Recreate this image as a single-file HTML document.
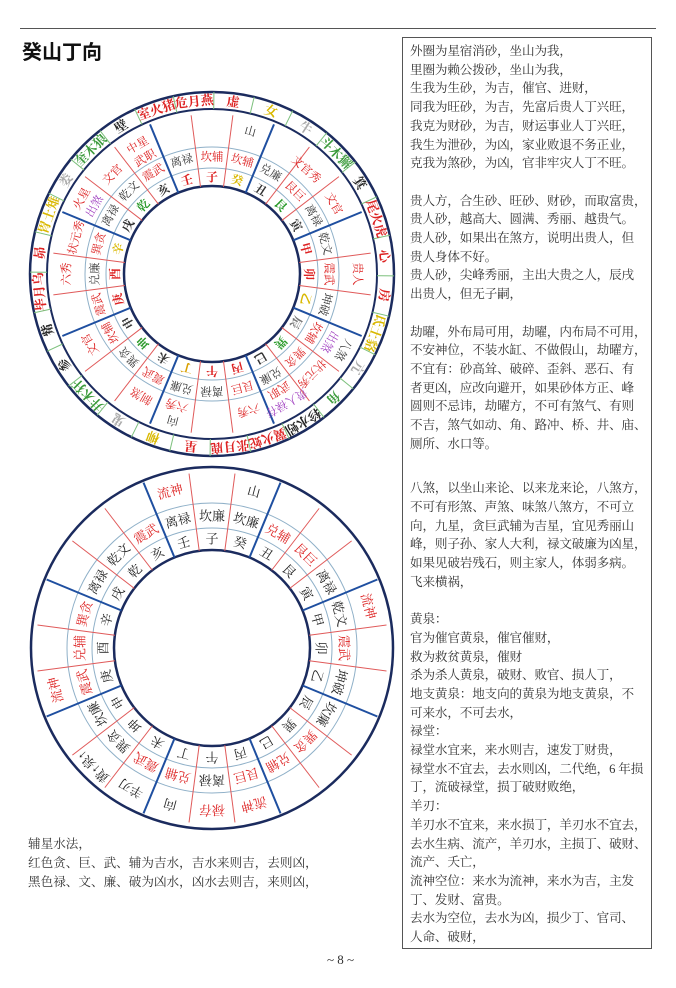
<!DOCTYPE html>
<html><head><meta charset="utf-8">
<style>
html,body{margin:0;padding:0;background:#fff;}
body{width:676px;height:988px;position:relative;overflow:hidden;font-family:"Liberation Serif","Noto Serif CJK SC",serif;color:#222;}
.hr{position:absolute;left:20px;top:28px;width:636px;height:0;border-top:1.5px solid #555;}
.title{position:absolute;left:22px;top:36px;font-family:"Liberation Sans","Noto Sans CJK SC",sans-serif;font-weight:bold;font-size:20px;color:#111;}
.box{position:absolute;left:402px;top:37px;width:248px;height:910px;border:1px solid #555;}
.txt{position:absolute;left:410px;top:42px;font-size:12.6px;letter-spacing:-0.15px;line-height:18.7px;white-space:nowrap;color:#333;}
.bl{position:absolute;left:28px;top:835px;font-size:12.6px;line-height:19px;white-space:nowrap;color:#333;}
.pn{position:absolute;left:327px;top:952px;font-size:13px;color:#333;}
svg{position:absolute;left:0;top:0;}
svg text{font-family:"Liberation Serif","Noto Serif CJK SC",serif;text-anchor:middle;dominant-baseline:central;}
</style></head><body>
<div class="hr"></div>
<div class="title">癸山丁向</div>
<div class="box"></div>
<div class="txt">外圈为星宿消砂，坐山为我，<br>里圈为赖公拨砂，坐山为我，<br>生我为生砂，为吉，催官、进财，<br>同我为旺砂，为吉，先富后贵人丁兴旺，<br>我克为财砂，为吉，财运事业人丁兴旺，<br>我生为泄砂，为凶，家业败退不务正业，<br>克我为煞砂，为凶，官非牢灾人丁不旺。<br><br>贵人方，合生砂、旺砂、财砂，而取富贵，<br>贵人砂，越高大、圆满、秀丽、越贵气。<br>贵人砂，如果出在煞方，说明出贵人，但<br>贵人身体不好。<br>贵人砂，尖峰秀丽，主出大贵之人，辰戌<br>出贵人，但无子嗣，<br><br>劫曜，外布局可用，劫曜，内布局不可用，<br>不安神位，不装水缸、不做假山，劫曜方，<br>不宜有：砂高耸、破碎、歪斜、恶石、有<br>者更凶，应改向避开，如果砂体方正、峰<br>圆则不忌讳，劫曜方，不可有煞气、有则<br>不吉，煞气如动、角、路冲、桥、井、庙、<br>厕所、水口等。<br><br><div style="height:7px"></div>八煞，以坐山来论、以来龙来论，八煞方，<br>不可有形煞、声煞、味煞八煞方，不可立<br>向，九星，贪巨武辅为吉星，宜见秀丽山<br>峰，则子孙、家人大利，禄文破廉为凶星，<br>如果见破岩残石，则主家人，体弱多病。<br>飞来横祸，<br><br>黄泉：<br>官为催官黄泉，催官催财，<br>救为救贫黄泉，催财<br>杀为杀人黄泉，破财、败官、损人丁，<br>地支黄泉：地支向的黄泉为地支黄泉，不<br>可来水，不可去水，<br>禄堂：<br>禄堂水宜来，来水则吉，速发丁财贵，<br>禄堂水不宜去，去水则凶，二代绝，6 年损<br>丁，流破禄堂，损丁破财败绝，<br>羊刃：<br>羊刃水不宜来，来水损丁，羊刃水不宜去，<br>去水生病、流产，羊刃水，主损丁、破财、<br>流产、夭亡，<br>流神空位：来水为流神，来水为吉，主发<br>丁、发财、富贵。<br>去水为空位，去水为凶，损少丁、官司、<br>人命、破财，</div>
<div class="bl">辅星水法，<br>红色贪、巨、武、辅为吉水，吉水来则吉，去则凶，<br>黑色禄、文、廉、破为凶水，凶水去则吉，来则凶，</div>
<div class="pn">~ 8 ~</div>

<svg width="676" height="988" viewBox="0 0 676 988">
<g fill="none">
<circle cx="212" cy="274" r="182" stroke="#1b2b5e" stroke-width="2.5"/>
<circle cx="212" cy="274" r="165" stroke="#1b2b5e" stroke-width="2"/>
<circle cx="212" cy="274" r="127" stroke="#8fb0c8" stroke-width="1"/>
<circle cx="212" cy="274" r="106" stroke="#8fb0c8" stroke-width="1"/>
<circle cx="212" cy="274" r="88" stroke="#1b2b5e" stroke-width="2.5"/>
</g>
<g stroke="#7cc07c" stroke-width="1">
<line x1="212" y1="92" x2="212" y2="109" transform="rotate(0.6 212 274)"/>
<line x1="212" y1="92" x2="212" y2="109" transform="rotate(13.4 212 274)"/>
<line x1="212" y1="92" x2="212" y2="109" transform="rotate(26.3 212 274)"/>
<line x1="212" y1="92" x2="212" y2="109" transform="rotate(39.1 212 274)"/>
<line x1="212" y1="92" x2="212" y2="109" transform="rotate(52 212 274)"/>
<line x1="212" y1="92" x2="212" y2="109" transform="rotate(64.9 212 274)"/>
<line x1="212" y1="92" x2="212" y2="109" transform="rotate(77.7 212 274)"/>
<line x1="212" y1="92" x2="212" y2="109" transform="rotate(90.6 212 274)"/>
<line x1="212" y1="92" x2="212" y2="109" transform="rotate(103.4 212 274)"/>
<line x1="212" y1="92" x2="212" y2="109" transform="rotate(116.3 212 274)"/>
<line x1="212" y1="92" x2="212" y2="109" transform="rotate(129.1 212 274)"/>
<line x1="212" y1="92" x2="212" y2="109" transform="rotate(142 212 274)"/>
<line x1="212" y1="92" x2="212" y2="109" transform="rotate(154.9 212 274)"/>
<line x1="212" y1="92" x2="212" y2="109" transform="rotate(167.7 212 274)"/>
<line x1="212" y1="92" x2="212" y2="109" transform="rotate(180.6 212 274)"/>
<line x1="212" y1="92" x2="212" y2="109" transform="rotate(193.4 212 274)"/>
<line x1="212" y1="92" x2="212" y2="109" transform="rotate(206.3 212 274)"/>
<line x1="212" y1="92" x2="212" y2="109" transform="rotate(219.1 212 274)"/>
<line x1="212" y1="92" x2="212" y2="109" transform="rotate(232 212 274)"/>
<line x1="212" y1="92" x2="212" y2="109" transform="rotate(244.9 212 274)"/>
<line x1="212" y1="92" x2="212" y2="109" transform="rotate(257.7 212 274)"/>
<line x1="212" y1="92" x2="212" y2="109" transform="rotate(270.6 212 274)"/>
<line x1="212" y1="92" x2="212" y2="109" transform="rotate(283.4 212 274)"/>
<line x1="212" y1="92" x2="212" y2="109" transform="rotate(296.3 212 274)"/>
<line x1="212" y1="92" x2="212" y2="109" transform="rotate(309.1 212 274)"/>
<line x1="212" y1="92" x2="212" y2="109" transform="rotate(322 212 274)"/>
<line x1="212" y1="92" x2="212" y2="109" transform="rotate(334.9 212 274)"/>
<line x1="212" y1="92" x2="212" y2="109" transform="rotate(347.7 212 274)"/>
</g>
<g stroke="#e05a5a" stroke-width="1">
<line x1="212" y1="186" x2="212" y2="114" transform="rotate(7.5 212 274)"/>
<line x1="212" y1="186" x2="212" y2="114" transform="rotate(37.5 212 274)"/>
<line x1="212" y1="186" x2="212" y2="114" transform="rotate(52.5 212 274)"/>
<line x1="212" y1="186" x2="212" y2="114" transform="rotate(82.5 212 274)"/>
<line x1="212" y1="186" x2="212" y2="114" transform="rotate(97.5 212 274)"/>
<line x1="212" y1="186" x2="212" y2="114" transform="rotate(127.5 212 274)"/>
<line x1="212" y1="186" x2="212" y2="114" transform="rotate(142.5 212 274)"/>
<line x1="212" y1="186" x2="212" y2="114" transform="rotate(172.5 212 274)"/>
<line x1="212" y1="186" x2="212" y2="114" transform="rotate(187.5 212 274)"/>
<line x1="212" y1="186" x2="212" y2="114" transform="rotate(217.5 212 274)"/>
<line x1="212" y1="186" x2="212" y2="114" transform="rotate(232.5 212 274)"/>
<line x1="212" y1="186" x2="212" y2="114" transform="rotate(262.5 212 274)"/>
<line x1="212" y1="186" x2="212" y2="114" transform="rotate(277.5 212 274)"/>
<line x1="212" y1="186" x2="212" y2="114" transform="rotate(307.5 212 274)"/>
<line x1="212" y1="186" x2="212" y2="114" transform="rotate(322.5 212 274)"/>
<line x1="212" y1="186" x2="212" y2="114" transform="rotate(352.5 212 274)"/>
</g>
<g stroke="#1f4fa0" stroke-width="2">
<line x1="212" y1="186" x2="212" y2="112" transform="rotate(22.5 212 274)"/>
<line x1="212" y1="186" x2="212" y2="112" transform="rotate(67.5 212 274)"/>
<line x1="212" y1="186" x2="212" y2="112" transform="rotate(112.5 212 274)"/>
<line x1="212" y1="186" x2="212" y2="112" transform="rotate(157.5 212 274)"/>
<line x1="212" y1="186" x2="212" y2="112" transform="rotate(202.5 212 274)"/>
<line x1="212" y1="186" x2="212" y2="112" transform="rotate(247.5 212 274)"/>
<line x1="212" y1="186" x2="212" y2="112" transform="rotate(292.5 212 274)"/>
<line x1="212" y1="186" x2="212" y2="112" transform="rotate(337.5 212 274)"/>
</g>
<g font-size="13" font-weight="bold">
<text x="212" y="100.5" fill="#d22" transform="rotate(7 212 274)">虚</text>
<text x="212" y="100.5" fill="#d9b800" transform="rotate(19.9 212 274)">女</text>
<text x="212" y="100.5" fill="#aaa" transform="rotate(32.7 212 274)">牛</text>
<text x="212" y="100.5" fill="#3a9a3a" transform="rotate(45.6 212 274)">斗木獬</text>
<text x="212" y="100.5" fill="#222" transform="rotate(58.4 212 274)">箕</text>
<text x="212" y="100.5" fill="#d22" transform="rotate(71.3 212 274)">尾火虎</text>
<text x="212" y="100.5" fill="#d22" transform="rotate(84.1 212 274)">心</text>
<text x="212" y="100.5" fill="#d22" transform="rotate(97 212 274)">房</text>
<text x="212" y="100.5" fill="#d9b800" transform="rotate(109.9 212 274)">氐土貉</text>
<text x="212" y="100.5" fill="#aaa" transform="rotate(122.7 212 274)">亢</text>
<text x="212" y="100.5" fill="#3a9a3a" transform="rotate(135.6 212 274)">角</text>
<text x="212" y="100.5" fill="#222" transform="rotate(148.4 212 274)">轸水蚓</text>
<text x="212" y="100.5" fill="#d22" transform="rotate(161.3 212 274)">翼火蛇</text>
<text x="212" y="100.5" fill="#d22" transform="rotate(174.1 212 274)">张月鹿</text>
<text x="212" y="100.5" fill="#d22" transform="rotate(187 212 274)">星</text>
<text x="212" y="100.5" fill="#d9b800" transform="rotate(199.9 212 274)">柳</text>
<text x="212" y="100.5" fill="#aaa" transform="rotate(212.7 212 274)">鬼</text>
<text x="212" y="100.5" fill="#3a9a3a" transform="rotate(225.6 212 274)">井木犴</text>
<text x="212" y="100.5" fill="#222" transform="rotate(238.4 212 274)">参</text>
<text x="212" y="100.5" fill="#222" transform="rotate(251.3 212 274)">觜</text>
<text x="212" y="100.5" fill="#d22" transform="rotate(264.1 212 274)">毕月乌</text>
<text x="212" y="100.5" fill="#d22" transform="rotate(277 212 274)">昴</text>
<text x="212" y="100.5" fill="#d9b800" transform="rotate(289.9 212 274)">胃土雉</text>
<text x="212" y="100.5" fill="#aaa" transform="rotate(302.7 212 274)">娄</text>
<text x="212" y="100.5" fill="#3a9a3a" transform="rotate(315.6 212 274)">奎木狼</text>
<text x="212" y="100.5" fill="#222" transform="rotate(328.4 212 274)">壁</text>
<text x="212" y="100.5" fill="#d22" transform="rotate(341.3 212 274)">室火猪</text>
<text x="212" y="100.5" fill="#d22" transform="rotate(354.1 212 274)">危月燕</text>
</g>
<g font-size="12" font-weight="bold">
<text x="212" y="177" fill="#d22" transform="rotate(0 212 274)">子</text>
<text x="212" y="177" fill="#d9b800" transform="rotate(15 212 274)">癸</text>
<text x="212" y="177" fill="#333" transform="rotate(30 212 274)">丑</text>
<text x="212" y="177" fill="#2a9a2a" transform="rotate(45 212 274)">艮</text>
<text x="212" y="177" fill="#333" transform="rotate(60 212 274)">寅</text>
<text x="212" y="177" fill="#d22" transform="rotate(75 212 274)">甲</text>
<text x="212" y="177" fill="#d22" transform="rotate(90 212 274)">卯</text>
<text x="212" y="177" fill="#d9b800" transform="rotate(105 212 274)">乙</text>
<text x="212" y="177" fill="#777" transform="rotate(120 212 274)">辰</text>
<text x="212" y="177" fill="#2a9a2a" transform="rotate(135 212 274)">巽</text>
<text x="212" y="177" fill="#333" transform="rotate(150 212 274)">巳</text>
<text x="212" y="177" fill="#d22" transform="rotate(165 212 274)">丙</text>
<text x="212" y="177" fill="#d22" transform="rotate(180 212 274)">午</text>
<text x="212" y="177" fill="#d9a000" transform="rotate(195 212 274)">丁</text>
<text x="212" y="177" fill="#333" transform="rotate(210 212 274)">未</text>
<text x="212" y="177" fill="#2a9a2a" transform="rotate(225 212 274)">坤</text>
<text x="212" y="177" fill="#333" transform="rotate(240 212 274)">申</text>
<text x="212" y="177" fill="#d22" transform="rotate(255 212 274)">庚</text>
<text x="212" y="177" fill="#d22" transform="rotate(270 212 274)">酉</text>
<text x="212" y="177" fill="#d9b800" transform="rotate(285 212 274)">辛</text>
<text x="212" y="177" fill="#333" transform="rotate(300 212 274)">戌</text>
<text x="212" y="177" fill="#2a9a2a" transform="rotate(315 212 274)">乾</text>
<text x="212" y="177" fill="#333" transform="rotate(330 212 274)">亥</text>
<text x="212" y="177" fill="#d22" transform="rotate(345 212 274)">壬</text>
</g>
<g font-size="11.5">
<text x="212" y="157.5" fill="#d22" transform="rotate(0 212 274)">坎辅</text>
<text x="212" y="157.5" fill="#d22" transform="rotate(15 212 274)">坎辅</text>
<text x="212" y="157.5" fill="#333" transform="rotate(30 212 274)">兑廉</text>
<text x="212" y="157.5" fill="#d22" transform="rotate(45 212 274)">艮巨</text>
<text x="212" y="157.5" fill="#333" transform="rotate(60 212 274)">离禄</text>
<text x="212" y="157.5" fill="#333" transform="rotate(75 212 274)">乾文</text>
<text x="212" y="157.5" fill="#d22" transform="rotate(90 212 274)">震武</text>
<text x="212" y="157.5" fill="#333" transform="rotate(105 212 274)">坤破</text>
<text x="212" y="157.5" fill="#d22" transform="rotate(120 212 274)">坎辅</text>
<text x="212" y="157.5" fill="#d22" transform="rotate(135 212 274)">巽贪</text>
<text x="212" y="157.5" fill="#333" transform="rotate(150 212 274)">兑廉</text>
<text x="212" y="157.5" fill="#d22" transform="rotate(165 212 274)">艮巨</text>
<text x="212" y="157.5" fill="#333" transform="rotate(180 212 274)">离禄</text>
<text x="212" y="157.5" fill="#333" transform="rotate(195 212 274)">兑廉</text>
<text x="212" y="157.5" fill="#d22" transform="rotate(210 212 274)">震武</text>
<text x="212" y="157.5" fill="#333" transform="rotate(225 212 274)">巽贪</text>
<text x="212" y="157.5" fill="#d22" transform="rotate(240 212 274)">坎辅</text>
<text x="212" y="157.5" fill="#d22" transform="rotate(255 212 274)">震武</text>
<text x="212" y="157.5" fill="#333" transform="rotate(270 212 274)">兑廉</text>
<text x="212" y="157.5" fill="#d22" transform="rotate(285 212 274)">巽贪</text>
<text x="212" y="157.5" fill="#333" transform="rotate(300 212 274)">离禄</text>
<text x="212" y="157.5" fill="#333" transform="rotate(315 212 274)">乾文</text>
<text x="212" y="157.5" fill="#d22" transform="rotate(330 212 274)">震武</text>
<text x="212" y="157.5" fill="#333" transform="rotate(345 212 274)">离禄</text>
</g>
<g font-size="11.5">
<text x="212" y="127" fill="#333" transform="rotate(15 212 274)">山</text>
<text x="212" y="126" fill="#d22" transform="rotate(330 212 274)">中星</text>
<text x="212" y="141" fill="#d22" transform="rotate(330 212 274)">武职</text>
<text x="212" y="134" fill="#d22" transform="rotate(315 212 274)">文官</text>
<text x="212" y="124" fill="#d22" transform="rotate(300 212 274)">火星</text>
<text x="212" y="139" fill="#a040c0" transform="rotate(300 212 274)">出煞</text>
<text x="212" y="134" fill="#d22" transform="rotate(285 212 274)">状元秀</text>
<text x="212" y="129" fill="#d22" transform="rotate(270 212 274)">六秀</text>
<text x="212" y="134" fill="#d22" transform="rotate(240 212 274)">文官</text>
<text x="212" y="134" fill="#d22" transform="rotate(210 212 274)">制煞</text>
<text x="212" y="139" fill="#d22" transform="rotate(195 212 274)">六秀</text>
<text x="212" y="123" fill="#333" transform="rotate(195 212 274)">向</text>
<text x="212" y="134" fill="#d22" transform="rotate(165 212 274)">六秀</text>
<text x="212" y="141" fill="#d22" transform="rotate(150 212 274)">武职</text>
<text x="212" y="126" fill="#a040c0" transform="rotate(150 212 274)">贵人禄存</text>
<text x="212" y="134" fill="#d22" transform="rotate(135 212 274)">状元秀</text>
<text x="212" y="139" fill="#a040c0" transform="rotate(120 212 274)">出煞</text>
<text x="212" y="123" fill="#333" transform="rotate(120 212 274)">八煞</text>
<text x="212" y="129" fill="#d22" transform="rotate(90 212 274)">贵人</text>
<text x="212" y="134" fill="#d22" transform="rotate(60 212 274)">文官</text>
<text x="212" y="134" fill="#d22" transform="rotate(42 212 274)">文官秀</text>
</g>

<g fill="none">
<circle cx="212" cy="648" r="181" stroke="#1b2b5e" stroke-width="2.5"/>
<circle cx="212" cy="648" r="145" stroke="#8fb0c8" stroke-width="1"/>
<circle cx="212" cy="648" r="120" stroke="#8fb0c8" stroke-width="1"/>
<circle cx="212" cy="648" r="98" stroke="#1b2b5e" stroke-width="2.5"/>
</g>
<g stroke="#e05a5a" stroke-width="1">
<line x1="212" y1="550" x2="212" y2="472" transform="rotate(7.5 212 648)"/>
<line x1="212" y1="550" x2="212" y2="472" transform="rotate(37.5 212 648)"/>
<line x1="212" y1="550" x2="212" y2="472" transform="rotate(52.5 212 648)"/>
<line x1="212" y1="550" x2="212" y2="472" transform="rotate(82.5 212 648)"/>
<line x1="212" y1="550" x2="212" y2="472" transform="rotate(97.5 212 648)"/>
<line x1="212" y1="550" x2="212" y2="472" transform="rotate(127.5 212 648)"/>
<line x1="212" y1="550" x2="212" y2="472" transform="rotate(142.5 212 648)"/>
<line x1="212" y1="550" x2="212" y2="472" transform="rotate(172.5 212 648)"/>
<line x1="212" y1="550" x2="212" y2="472" transform="rotate(187.5 212 648)"/>
<line x1="212" y1="550" x2="212" y2="472" transform="rotate(217.5 212 648)"/>
<line x1="212" y1="550" x2="212" y2="472" transform="rotate(232.5 212 648)"/>
<line x1="212" y1="550" x2="212" y2="472" transform="rotate(262.5 212 648)"/>
<line x1="212" y1="550" x2="212" y2="472" transform="rotate(277.5 212 648)"/>
<line x1="212" y1="550" x2="212" y2="472" transform="rotate(307.5 212 648)"/>
<line x1="212" y1="550" x2="212" y2="472" transform="rotate(322.5 212 648)"/>
<line x1="212" y1="550" x2="212" y2="472" transform="rotate(352.5 212 648)"/>
</g>
<g stroke="#1f4fa0" stroke-width="2">
<line x1="212" y1="550" x2="212" y2="469" transform="rotate(22.5 212 648)"/>
<line x1="212" y1="550" x2="212" y2="469" transform="rotate(67.5 212 648)"/>
<line x1="212" y1="550" x2="212" y2="469" transform="rotate(112.5 212 648)"/>
<line x1="212" y1="550" x2="212" y2="469" transform="rotate(157.5 212 648)"/>
<line x1="212" y1="550" x2="212" y2="469" transform="rotate(202.5 212 648)"/>
<line x1="212" y1="550" x2="212" y2="469" transform="rotate(247.5 212 648)"/>
<line x1="212" y1="550" x2="212" y2="469" transform="rotate(292.5 212 648)"/>
<line x1="212" y1="550" x2="212" y2="469" transform="rotate(337.5 212 648)"/>
</g>
<g font-size="13" fill="#222">
<text x="212" y="539" transform="rotate(0 212 648)">子</text>
<text x="212" y="539" transform="rotate(15 212 648)">癸</text>
<text x="212" y="539" transform="rotate(30 212 648)">丑</text>
<text x="212" y="539" transform="rotate(45 212 648)">艮</text>
<text x="212" y="539" transform="rotate(60 212 648)">寅</text>
<text x="212" y="539" transform="rotate(75 212 648)">甲</text>
<text x="212" y="539" transform="rotate(90 212 648)">卯</text>
<text x="212" y="539" transform="rotate(105 212 648)">乙</text>
<text x="212" y="539" transform="rotate(120 212 648)">辰</text>
<text x="212" y="539" transform="rotate(135 212 648)">巽</text>
<text x="212" y="539" transform="rotate(150 212 648)">巳</text>
<text x="212" y="539" transform="rotate(165 212 648)">丙</text>
<text x="212" y="539" transform="rotate(180 212 648)">午</text>
<text x="212" y="539" transform="rotate(195 212 648)">丁</text>
<text x="212" y="539" transform="rotate(210 212 648)">未</text>
<text x="212" y="539" transform="rotate(225 212 648)">坤</text>
<text x="212" y="539" transform="rotate(240 212 648)">申</text>
<text x="212" y="539" transform="rotate(255 212 648)">庚</text>
<text x="212" y="539" transform="rotate(270 212 648)">酉</text>
<text x="212" y="539" transform="rotate(285 212 648)">辛</text>
<text x="212" y="539" transform="rotate(300 212 648)">戌</text>
<text x="212" y="539" transform="rotate(315 212 648)">乾</text>
<text x="212" y="539" transform="rotate(330 212 648)">亥</text>
<text x="212" y="539" transform="rotate(345 212 648)">壬</text>
</g>
<g font-size="13">
<text x="212" y="516" fill="#222" transform="rotate(0 212 648)">坎廉</text>
<text x="212" y="516" fill="#222" transform="rotate(15 212 648)">坎廉</text>
<text x="212" y="516" fill="#d22" transform="rotate(30 212 648)">兑辅</text>
<text x="212" y="516" fill="#d22" transform="rotate(45 212 648)">艮巨</text>
<text x="212" y="516" fill="#222" transform="rotate(60 212 648)">离禄</text>
<text x="212" y="516" fill="#222" transform="rotate(75 212 648)">乾文</text>
<text x="212" y="516" fill="#d22" transform="rotate(90 212 648)">震武</text>
<text x="212" y="516" fill="#222" transform="rotate(105 212 648)">坤破</text>
<text x="212" y="516" fill="#222" transform="rotate(120 212 648)">坎廉</text>
<text x="212" y="516" fill="#d22" transform="rotate(135 212 648)">巽贪</text>
<text x="212" y="516" fill="#d22" transform="rotate(150 212 648)">兑辅</text>
<text x="212" y="516" fill="#d22" transform="rotate(165 212 648)">艮巨</text>
<text x="212" y="516" fill="#222" transform="rotate(180 212 648)">离禄</text>
<text x="212" y="516" fill="#d22" transform="rotate(195 212 648)">兑辅</text>
<text x="212" y="516" fill="#d22" transform="rotate(210 212 648)">震武</text>
<text x="212" y="516" fill="#222" transform="rotate(225 212 648)">巽贪</text>
<text x="212" y="516" fill="#222" transform="rotate(240 212 648)">坎廉</text>
<text x="212" y="516" fill="#d22" transform="rotate(255 212 648)">震武</text>
<text x="212" y="516" fill="#d22" transform="rotate(270 212 648)">兑辅</text>
<text x="212" y="516" fill="#d22" transform="rotate(285 212 648)">巽贪</text>
<text x="212" y="516" fill="#222" transform="rotate(300 212 648)">离禄</text>
<text x="212" y="516" fill="#222" transform="rotate(315 212 648)">乾文</text>
<text x="212" y="516" fill="#d22" transform="rotate(330 212 648)">震武</text>
<text x="212" y="516" fill="#222" transform="rotate(345 212 648)">离禄</text>
</g>
<g font-size="13">
<text x="212" y="486" fill="#d22" transform="rotate(345 212 648)">流神</text>
<text x="212" y="486" fill="#222" transform="rotate(15 212 648)">山</text>
<text x="212" y="486" fill="#d22" transform="rotate(75 212 648)">流神</text>
<text x="212" y="486" fill="#d22" transform="rotate(165 212 648)">流神</text>
<text x="212" y="486" fill="#d22" transform="rotate(180 212 648)">禄存</text>
<text x="212" y="486" fill="#222" transform="rotate(195 212 648)">向</text>
<text x="212" y="486" fill="#222" transform="rotate(210 212 648)">羊刃</text>
<text x="212" y="480" fill="#222" transform="rotate(225 212 648)">黄↑泉↑</text>
<text x="212" y="486" fill="#d22" transform="rotate(255 212 648)">流神</text>
</g>
</svg>
</body></html>
